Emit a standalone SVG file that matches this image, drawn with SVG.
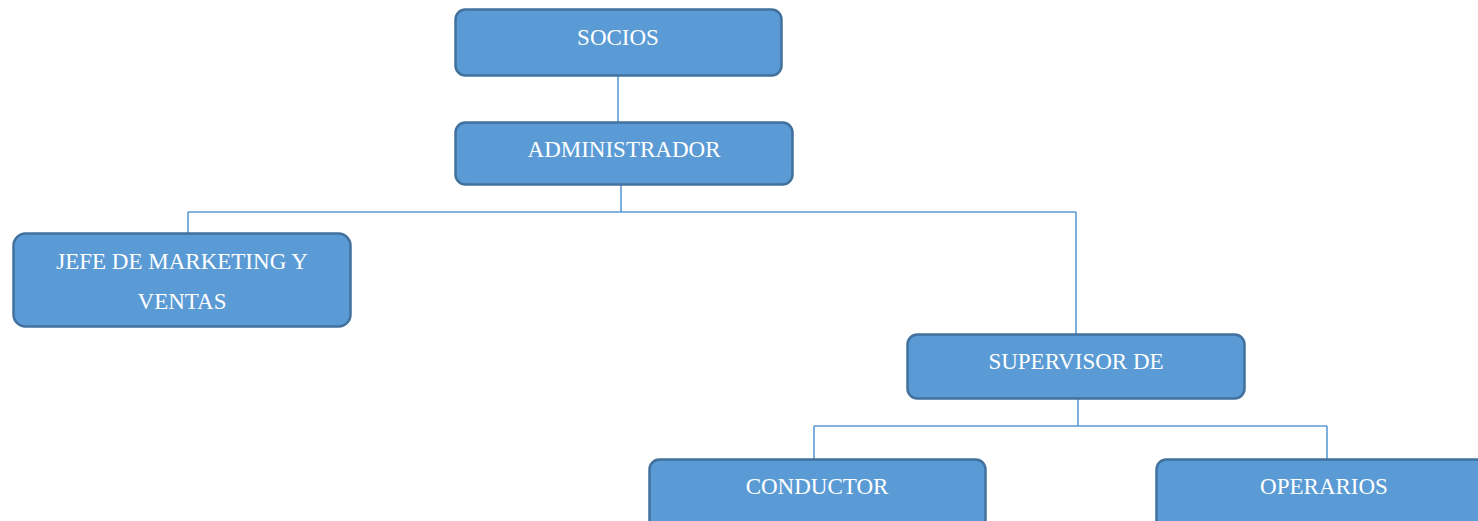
<svg xmlns="http://www.w3.org/2000/svg" width="1478" height="521" viewBox="0 0 1478 521">
  <style>
    .box { fill: #5B9BD5; stroke: #41719C; stroke-width: 2.5; }
    .lbl { fill: #FFFFFF; font-family: "Liberation Serif", "Times New Roman", serif; font-size: 23px; text-anchor: middle; }
    .link { fill: none; stroke: #5B9BD5; stroke-width: 1.6; }
  </style>
  <rect width="1478" height="521" fill="#FFFFFF"/>

  <g id="connectors">
    <path class="link" d="M618 75 V122"/>
    <path class="link" d="M621 185 V212 M188 212 H1076 M188 212 V233 M1076 212 V334"/>
    <path class="link" d="M1078 399 V426 M814 426 H1327 M814 426 V459 M1327 426 V459"/>
  </g>

  <g id="socios">
    <rect class="box" x="455.5" y="9.5" width="326" height="66" rx="10"/>
    <text class="lbl" x="618" y="45">SOCIOS</text>
  </g>

  <g id="administrador">
    <rect class="box" x="455.5" y="122.5" width="337" height="62" rx="10"/>
    <text class="lbl" x="624" y="157">ADMINISTRADOR</text>
  </g>

  <g id="jefe-marketing">
    <rect class="box" x="13.5" y="233.5" width="337" height="93" rx="12"/>
    <text class="lbl" x="182" y="269">JEFE DE MARKETING Y</text>
    <text class="lbl" x="182" y="309">VENTAS</text>
  </g>

  <g id="supervisor">
    <rect class="box" x="907.5" y="334.5" width="337" height="64" rx="10"/>
    <text class="lbl" x="1076" y="369">SUPERVISOR DE</text>
  </g>

  <g id="conductor">
    <rect class="box" x="649.5" y="459.5" width="336" height="80" rx="10"/>
    <text class="lbl" x="817" y="494">CONDUCTOR</text>
  </g>

  <g id="operarios">
    <rect class="box" x="1156.5" y="459.5" width="336" height="80" rx="10"/>
    <text class="lbl" x="1324" y="494">OPERARIOS</text>
  </g>
</svg>
